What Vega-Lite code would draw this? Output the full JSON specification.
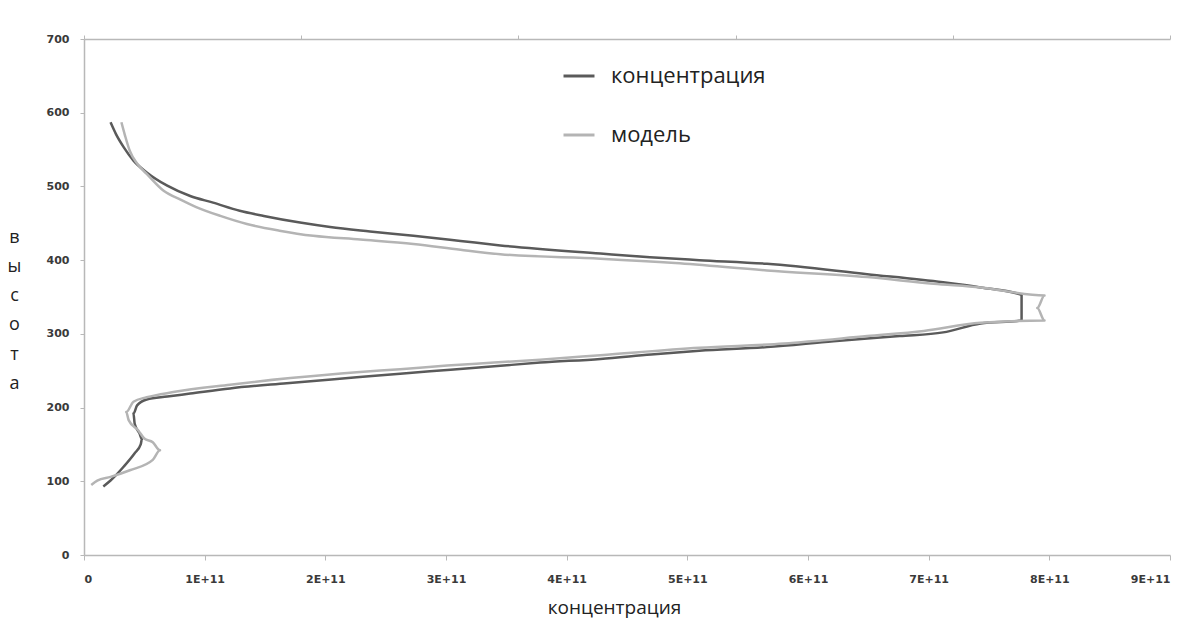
{
  "$schema": "https://vega.github.io/schema/vega-lite/v6.json",
  "width": 1086,
  "height": 516,
  "autosize": {"type": "none"},
  "padding": {"left": 84, "top": 39, "right": 28, "bottom": 66},
  "background": "white",
  "config": {
    "view": {"stroke": null},
    "axis": {
      "grid": false,
      "domainColor": "#b8b8b8",
      "tickColor": "#b8b8b8",
      "domainWidth": 1.5,
      "labelFont": "DejaVu Sans",
      "labelFontWeight": "bold",
      "labelFontSize": 11,
      "labelColor": "#3a3a3a"
    }
  },
  "data": {
    "values": [
      {"series": "концентрация", "i": 1, "conc": 1.6e10, "height": 93},
      {"series": "концентрация", "i": 2, "conc": 2.2e10, "height": 101},
      {"series": "концентрация", "i": 3, "conc": 3.3e10, "height": 120},
      {"series": "концентрация", "i": 4, "conc": 4.2e10, "height": 138},
      {"series": "концентрация", "i": 5, "conc": 4.7e10, "height": 150},
      {"series": "концентрация", "i": 6, "conc": 4.8e10, "height": 157},
      {"series": "концентрация", "i": 7, "conc": 4.6e10, "height": 165},
      {"series": "концентрация", "i": 8, "conc": 4.2e10, "height": 178},
      {"series": "концентрация", "i": 9, "conc": 4.1e10, "height": 192},
      {"series": "концентрация", "i": 10, "conc": 4.4e10, "height": 203},
      {"series": "концентрация", "i": 11, "conc": 5.2e10, "height": 211},
      {"series": "концентрация", "i": 12, "conc": 6.9e10, "height": 215},
      {"series": "концентрация", "i": 13, "conc": 8.8e10, "height": 219},
      {"series": "концентрация", "i": 14, "conc": 1.21e11, "height": 226},
      {"series": "концентрация", "i": 15, "conc": 1.68e11, "height": 233},
      {"series": "концентрация", "i": 16, "conc": 2.26e11, "height": 241},
      {"series": "концентрация", "i": 17, "conc": 2.62e11, "height": 246},
      {"series": "концентрация", "i": 18, "conc": 3.01e11, "height": 251},
      {"series": "концентрация", "i": 19, "conc": 3.40e11, "height": 256},
      {"series": "концентрация", "i": 20, "conc": 3.78e11, "height": 261},
      {"series": "концентрация", "i": 21, "conc": 4.28e11, "height": 266},
      {"series": "концентрация", "i": 22, "conc": 4.70e11, "height": 272},
      {"series": "концентрация", "i": 23, "conc": 5.10e11, "height": 277},
      {"series": "концентрация", "i": 24, "conc": 5.66e11, "height": 282},
      {"series": "концентрация", "i": 25, "conc": 6.21e11, "height": 290},
      {"series": "концентрация", "i": 26, "conc": 6.76e11, "height": 297},
      {"series": "концентрация", "i": 27, "conc": 7.12e11, "height": 302},
      {"series": "концентрация", "i": 28, "conc": 7.43e11, "height": 314},
      {"series": "концентрация", "i": 29, "conc": 7.77e11, "height": 318},
      {"series": "концентрация", "i": 30, "conc": 7.77e11, "height": 353},
      {"series": "концентрация", "i": 31, "conc": 7.43e11, "height": 363},
      {"series": "концентрация", "i": 32, "conc": 7.12e11, "height": 370},
      {"series": "концентрация", "i": 33, "conc": 6.49e11, "height": 381},
      {"series": "концентрация", "i": 34, "conc": 5.66e11, "height": 395},
      {"series": "концентрация", "i": 35, "conc": 5.10e11, "height": 400},
      {"series": "концентрация", "i": 36, "conc": 4.69e11, "height": 404},
      {"series": "концентрация", "i": 37, "conc": 4.28e11, "height": 409},
      {"series": "концентрация", "i": 38, "conc": 3.45e11, "height": 420},
      {"series": "концентрация", "i": 39, "conc": 3.12e11, "height": 426},
      {"series": "концентрация", "i": 40, "conc": 2.73e11, "height": 433},
      {"series": "концентрация", "i": 41, "conc": 2.37e11, "height": 439},
      {"series": "концентрация", "i": 42, "conc": 2.04e11, "height": 445},
      {"series": "концентрация", "i": 43, "conc": 1.79e11, "height": 451},
      {"series": "концентрация", "i": 44, "conc": 1.49e11, "height": 460},
      {"series": "концентрация", "i": 45, "conc": 1.29e11, "height": 467},
      {"series": "концентрация", "i": 46, "conc": 1.07e11, "height": 478},
      {"series": "концентрация", "i": 47, "conc": 8.8e10, "height": 487},
      {"series": "концентрация", "i": 48, "conc": 6.9e10, "height": 501},
      {"series": "концентрация", "i": 49, "conc": 5.2e10, "height": 519},
      {"series": "концентрация", "i": 50, "conc": 4.1e10, "height": 535},
      {"series": "концентрация", "i": 51, "conc": 3.3e10, "height": 553},
      {"series": "концентрация", "i": 52, "conc": 2.65e10, "height": 571},
      {"series": "концентрация", "i": 53, "conc": 2.2e10, "height": 587},
      {"series": "модель", "i": 1, "conc": 6e9, "height": 95},
      {"series": "модель", "i": 2, "conc": 1.1e10, "height": 101},
      {"series": "модель", "i": 3, "conc": 2.2e10, "height": 106},
      {"series": "модель", "i": 4, "conc": 3.8e10, "height": 115},
      {"series": "модель", "i": 5, "conc": 5.7e10, "height": 129},
      {"series": "модель", "i": 6, "conc": 6.3e10, "height": 142},
      {"series": "модель", "i": 7, "conc": 5.7e10, "height": 153},
      {"series": "модель", "i": 8, "conc": 5.0e10, "height": 158},
      {"series": "модель", "i": 9, "conc": 4.5e10, "height": 169},
      {"series": "модель", "i": 10, "conc": 3.7e10, "height": 183},
      {"series": "модель", "i": 11, "conc": 3.5e10, "height": 194},
      {"series": "модель", "i": 12, "conc": 4.1e10, "height": 208},
      {"series": "модель", "i": 13, "conc": 5.2e10, "height": 214},
      {"series": "модель", "i": 14, "conc": 7.4e10, "height": 221},
      {"series": "модель", "i": 15, "conc": 1.21e11, "height": 231},
      {"series": "модель", "i": 16, "conc": 1.71e11, "height": 240},
      {"series": "модель", "i": 17, "conc": 2.26e11, "height": 248},
      {"series": "модель", "i": 18, "conc": 2.62e11, "height": 252},
      {"series": "модель", "i": 19, "conc": 3.01e11, "height": 257},
      {"series": "модель", "i": 20, "conc": 3.40e11, "height": 261},
      {"series": "модель", "i": 21, "conc": 3.78e11, "height": 265},
      {"series": "модель", "i": 22, "conc": 4.28e11, "height": 271},
      {"series": "модель", "i": 23, "conc": 5.10e11, "height": 281},
      {"series": "модель", "i": 24, "conc": 5.80e11, "height": 287},
      {"series": "модель", "i": 25, "conc": 6.49e11, "height": 297},
      {"series": "модель", "i": 26, "conc": 6.96e11, "height": 304},
      {"series": "модель", "i": 27, "conc": 7.43e11, "height": 315},
      {"series": "модель", "i": 28, "conc": 7.96e11, "height": 318},
      {"series": "модель", "i": 29, "conc": 7.90e11, "height": 335},
      {"series": "модель", "i": 30, "conc": 7.96e11, "height": 352},
      {"series": "модель", "i": 31, "conc": 7.43e11, "height": 363},
      {"series": "модель", "i": 32, "conc": 7.04e11, "height": 368},
      {"series": "модель", "i": 33, "conc": 6.49e11, "height": 377},
      {"series": "модель", "i": 34, "conc": 5.66e11, "height": 386},
      {"series": "модель", "i": 35, "conc": 4.90e11, "height": 396},
      {"series": "модель", "i": 36, "conc": 4.28e11, "height": 402},
      {"series": "модель", "i": 37, "conc": 3.45e11, "height": 408},
      {"series": "модель", "i": 38, "conc": 3.12e11, "height": 414},
      {"series": "модель", "i": 39, "conc": 2.73e11, "height": 422},
      {"series": "модель", "i": 40, "conc": 2.29e11, "height": 428},
      {"series": "модель", "i": 41, "conc": 1.90e11, "height": 433},
      {"series": "модель", "i": 42, "conc": 1.62e11, "height": 440},
      {"series": "модель", "i": 43, "conc": 1.35e11, "height": 449},
      {"series": "модель", "i": 44, "conc": 1.13e11, "height": 460},
      {"series": "модель", "i": 45, "conc": 9.3e10, "height": 472},
      {"series": "модель", "i": 46, "conc": 8.0e10, "height": 482},
      {"series": "модель", "i": 47, "conc": 6.6e10, "height": 494},
      {"series": "модель", "i": 48, "conc": 5.2e10, "height": 517},
      {"series": "модель", "i": 49, "conc": 4.4e10, "height": 531},
      {"series": "модель", "i": 50, "conc": 3.8e10, "height": 548},
      {"series": "модель", "i": 51, "conc": 3.4e10, "height": 569},
      {"series": "модель", "i": 52, "conc": 3.1e10, "height": 587}
    ]
  },
  "layer": [
    {
      "mark": {"type": "line", "strokeWidth": 2.5, "strokeJoin": "round", "interpolate": "monotone"},
      "encoding": {
        "x": {
          "field": "conc",
          "type": "quantitative",
          "scale": {"domain": [0, 900000000000], "nice": false, "zero": false},
          "axis": {
            "values": [0, 100000000000, 200000000000, 300000000000, 400000000000, 500000000000, 600000000000, 700000000000, 800000000000, 900000000000],
            "labelExpr": "datum.value == 0 ? '0' : round(datum.value / 100000000000) + 'E+11'",
            "tickSize": 5,
            "labelPadding": 13,
            "title": "концентрация",
            "titleFont": "Open Sans",
            "titleFontSize": 19,
            "titleFontWeight": "normal",
            "titleColor": "#222222",
            "titlePadding": 14,
            "titleX": 530,
            "titleAlign": "center"
          }
        },
        "y": {
          "field": "height",
          "type": "quantitative",
          "scale": {"domain": [0, 700], "nice": false, "zero": true},
          "axis": {
            "values": [0, 100, 200, 300, 400, 500, 600, 700],
            "tickSize": 4,
            "labelPadding": 11,
            "title": ["в", "ы", "с", "о", "т", "а"],
            "titleAngle": 0,
            "titleX": -70,
            "titleY": 198,
            "titleAlign": "center",
            "titleBaseline": "middle",
            "titleLineHeight": 29.3,
            "titleFont": "Open Sans",
            "titleFontSize": 18,
            "titleFontWeight": "normal",
            "titleColor": "#222222"
          }
        },
        "order": {"field": "i", "type": "quantitative"},
        "color": {
          "field": "series",
          "type": "nominal",
          "scale": {"domain": ["концентрация", "модель"], "range": ["#5a5a5a", "#b4b4b4"]},
          "legend": {
            "title": null,
            "orient": "none",
            "legendX": 478,
            "legendY": 20,
            "symbolType": "stroke",
            "symbolSize": 960,
            "symbolStrokeWidth": 3,
            "labelFont": "Open Sans",
            "labelFontSize": 22,
            "labelColor": "#222222",
            "labelOffset": 15,
            "rowPadding": 31
          }
        }
      }
    },
    {
      "mark": {"type": "point", "opacity": 0},
      "encoding": {
        "x": {
          "field": "conc",
          "type": "quantitative",
          "axis": {
            "orient": "top",
            "values": [0, 180000000000, 360000000000, 540000000000, 720000000000, 900000000000],
            "labels": false,
            "tickSize": 4,
            "title": null
          }
        }
      }
    }
  ],
  "resolve": {"axis": {"x": "independent"}}
}
